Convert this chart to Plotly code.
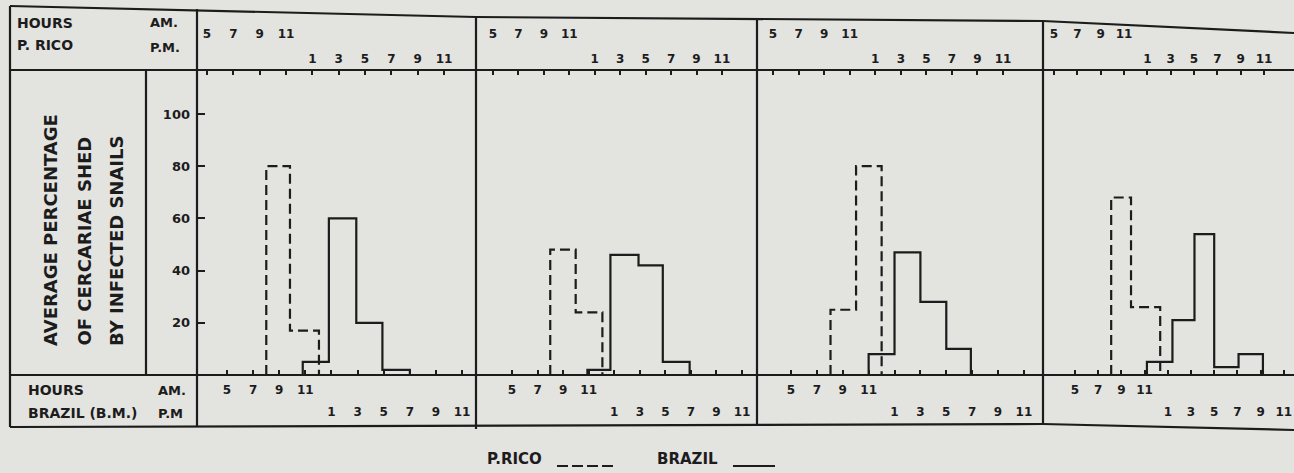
import plotly.graph_objects as go

W, H = 1294, 473
INK = "#1c1c1c"
PAPER = "#e3e3e0"
FONT = "DejaVu Sans"

# ---------------- data ----------------
am_hours = [5, 7, 9, 11]
pm_hours = [13, 15, 17, 19, 21, 23]
am_labels = ["5", "7", "9", "11"]
pm_labels = ["1", "3", "5", "7", "9", "11"]
y_ticks = [20, 40, 60, 80, 100]
y_tick_labels = ["20", "40", "60", "80", "100"]

# Puerto Rico (dashed): bin edges in P. Rico clock hours, average % shed
prico_edges_1 = [9.5, 11.3, 13.5]
prico_vals_1 = [80, 17]
prico_edges_2 = [9.5, 11.5, 13.6]
prico_vals_2 = [48, 24]
prico_edges_3 = [9.5, 11.5, 13.5]
prico_vals_3 = [25, 80]
prico_edges_4 = [9.9, 11.6, 14.1]
prico_vals_4 = [68, 26]

# Brazil (solid): bin edges in Brazil (B.M.) clock hours, average % shed
brazil_edges_1 = [10.8, 12.8, 14.9, 16.9, 19.0]
brazil_vals_1 = [5, 60, 20, 2]
brazil_edges_2 = [10.9, 12.7, 14.9, 16.8, 18.9]
brazil_vals_2 = [2, 46, 42, 5]
brazil_edges_3 = [11.0, 13.0, 15.0, 17.0, 18.9]
brazil_vals_3 = [8, 47, 28, 10]
brazil_edges_4 = [11.2, 13.4, 15.3, 17.0, 19.1, 21.2]
brazil_vals_4 = [5, 21, 54, 3, 8]

prico_edges = [prico_edges_1, prico_edges_2, prico_edges_3, prico_edges_4]
prico_vals = [prico_vals_1, prico_vals_2, prico_vals_3, prico_vals_4]
brazil_edges = [brazil_edges_1, brazil_edges_2, brazil_edges_3, brazil_edges_4]
brazil_vals = [brazil_vals_1, brazil_vals_2, brazil_vals_3, brazil_vals_4]

# ---------------- layout geometry (pixels) ----------------
PLOT_TOP, PLOT_BOT = 70, 375
PX_PER_UNIT = 2.61
panels = [
    dict(L=197, R=476, p5=207, ps=13.17, b5=227, bs=13.06),
    dict(L=476, R=757, p5=493, ps=12.72, b5=512, bs=12.78),
    dict(L=757, R=1043, p5=773, ps=12.78, b5=791, bs=12.94),
    dict(L=1043, R=1294, p5=1054, ps=11.67, b5=1075, bs=11.6),
]


def steps(edges, vals):
    xs, ys = [edges[0]], [0]
    for i, v in enumerate(vals):
        xs += [edges[i], edges[i + 1]]
        ys += [v, v]
    xs.append(edges[-1])
    ys.append(0)
    return xs, ys


def aname(n):
    return "xaxis" if n == 1 else f"xaxis{n}"


def aref(n):
    return "x" if n == 1 else f"x{n}"


fig = go.Figure()
layout = {}
tickfont = dict(family=FONT, size=12, color=INK, weight="bold")
DASH = "10px,5px"

for i, p in enumerate(panels):
    n = 4 * i + 1
    dom = [p["L"] / W, p["R"] / W]
    pr_range = [5 + (p["L"] - p["p5"]) / p["ps"], 5 + (p["R"] - p["p5"]) / p["ps"]]
    br_range = [5 + (p["L"] - p["b5"]) / p["bs"], 5 + (p["R"] - p["b5"]) / p["bs"]]
    common = dict(showgrid=False, zeroline=False, showline=False, tickmode="array",
                  tickangle=0, tickfont=tickfont, tickcolor=INK, tickwidth=2,
                  fixedrange=True)
    # top: P. Rico hours (ticks + AM labels)
    layout[aname(n)] = dict(common, domain=dom, range=pr_range, anchor="y", side="top",
                            tickvals=am_hours + pm_hours,
                            ticktext=am_labels + [""] * len(pm_hours),
                            ticks="inside", ticklen=5, ticklabelstandoff=29)
    # top: PM label row
    layout[aname(n + 1)] = dict(common, range=pr_range, anchor="y", side="top",
                                overlaying=aref(n), tickvals=pm_hours, ticktext=pm_labels,
                                ticks="", ticklabelstandoff=4)
    # bottom: Brazil hours (ticks + AM labels)
    layout[aname(n + 2)] = dict(common, domain=dom, range=br_range, anchor="y", side="bottom",
                                overlaying=aref(n),
                                tickvals=am_hours + pm_hours,
                                ticktext=am_labels + [""] * len(pm_hours),
                                ticks="inside", ticklen=5, ticklabelstandoff=6)
    # bottom: PM label row
    layout[aname(n + 3)] = dict(common, range=br_range, anchor="y", side="bottom",
                                overlaying=aref(n), tickvals=pm_hours, ticktext=pm_labels,
                                ticks="", ticklabelstandoff=28)

    xs, ys = steps(prico_edges[i], prico_vals[i])
    fig.add_trace(go.Scatter(x=xs, y=ys, xaxis=aref(n), yaxis="y", mode="lines",
                             line=dict(color=INK, width=2.2, dash=DASH),
                             name="P.RICO", showlegend=False, hoverinfo="skip"))
    xs, ys = steps(brazil_edges[i], brazil_vals[i])
    fig.add_trace(go.Scatter(x=xs, y=ys, xaxis=aref(n + 2), yaxis="y", mode="lines",
                             line=dict(color=INK, width=2.2),
                             name="BRAZIL", showlegend=False, hoverinfo="skip"))
    # transparent anchors so the PM label rows (overlay axes) are drawn
    for k in (n + 1, n + 3):
        fig.add_trace(go.Scatter(x=pm_hours, y=[0] * len(pm_hours), xaxis=aref(k), yaxis="y",
                                 mode="markers", marker=dict(opacity=0, size=1),
                                 showlegend=False, hoverinfo="skip"))

layout["yaxis"] = dict(domain=[1 - PLOT_BOT / H, 1 - PLOT_TOP / H],
                       range=[0, (PLOT_BOT - PLOT_TOP) / PX_PER_UNIT],
                       anchor="x", side="left", showgrid=False, zeroline=False,
                       showline=False, tickmode="array", tickvals=y_ticks,
                       ticktext=y_tick_labels, ticks="inside", ticklen=8, tickwidth=2,
                       tickcolor=INK, ticklabelstandoff=6, fixedrange=True,
                       tickfont=dict(family=FONT, size=13, color=INK, weight="bold"))


def seg(x0, y0, x1, y1, dash=None):
    ln = dict(color=INK, width=2.2)
    if dash:
        ln["dash"] = dash
    return dict(type="line", xref="paper", yref="paper", x0=x0 / W, y0=1 - y0 / H,
                x1=x1 / W, y1=1 - y1 / H, line=ln, layer="above")


shapes = [
    seg(10, 6, 476, 17), seg(476, 17, 1043, 21), seg(1043, 21, 1294, 33),
    seg(10, PLOT_TOP, 1294, PLOT_TOP), seg(10, PLOT_BOT, 1294, PLOT_BOT),
    seg(10, 427, 1043, 424), seg(1043, 424, 1294, 430),
    seg(10, 6, 10, 427), seg(146, PLOT_TOP, 146, PLOT_BOT),
    seg(197, 9, 197, 427), seg(476, 17, 476, 429), seg(757, 19, 757, 426),
    seg(1043, 21, 1043, 424),
    # legend keys
    seg(557, 466, 615, 466, dash="11px,4px"), seg(733, 466, 775, 466),
]


def label(text, x, y, size=14, xanchor="left", **kw):
    return dict(text=text, xref="paper", yref="paper", x=x / W, y=1 - y / H,
                xanchor=xanchor, yanchor="middle", showarrow=False,
                font=dict(family=FONT, size=size, color=INK, weight="bold"), **kw)


annotations = [
    label("HOURS", 15, 23), label("P. RICO", 15, 45),
    label("AM.", 148, 23, size=13), label("P.M.", 148, 47, size=13),
    label("HOURS", 26, 390), label("BRAZIL (B.M.)", 26, 413),
    label("AM.", 156, 390, size=13), label("P.M", 156, 413, size=13),
    label("P.RICO", 485, 459, size=15),
    label("BRAZIL", 655, 459, size=15),
]
for txt, xc in [("AVERAGE PERCENTAGE", 50), ("OF CERCARIAE SHED", 84), ("BY INFECTED SNAILS", 116)]:
    annotations.append(dict(text=txt, xref="paper", yref="paper", x=xc / W, y=1 - 348 / H,
                            xanchor="center", yanchor="bottom", textangle=-90, showarrow=False,
                            font=dict(family=FONT, size=18, color=INK, weight="bold")))

fig.update_layout(**layout)
fig.update_layout(width=W, height=H, margin=dict(l=0, r=0, t=0, b=0),
                  paper_bgcolor=PAPER, plot_bgcolor=PAPER, showlegend=False,
                  shapes=shapes, annotations=annotations)

fig.write_html("out.html", config={"displayModeBar": False, "staticPlot": True},
               post_script="document.body.style.margin='0';document.body.style.overflow='hidden';")
